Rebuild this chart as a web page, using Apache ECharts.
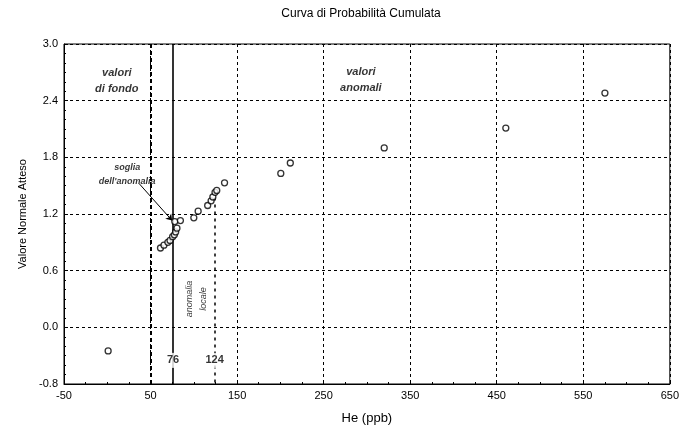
<!DOCTYPE html>
<html>
<head>
<meta charset="utf-8">
<script src="https://cdn.jsdelivr.net/npm/echarts@6/dist/echarts.min.js"></script>
<style>
  html, body { margin: 0; padding: 0; background: #fff; }
  #chart { width: 682px; height: 434px; }
</style>
</head>
<body>
<div id="chart"></div>
<script>
// dati
var heValues = [1, 61.5, 65.5, 70, 72.5, 75.5, 77.5, 79, 80.5, 78, 84.5, 100, 105, 116, 120, 122, 124.5, 126.5, 135.5, 200.5, 211.5, 320, 460.5, 575];
var normValues = [-0.25, 0.84, 0.87, 0.90, 0.92, 0.96, 0.98, 1.01, 1.05, 1.12, 1.13, 1.16, 1.23, 1.29, 1.34, 1.38, 1.43, 1.45, 1.53, 1.63, 1.74, 1.90, 2.11, 2.48];
var sogliaFondo = 76;
var sogliaLocale = 124;
var yBottomLabel = '-0.8';

var punti = [];
for (var i = 0; i < heValues.length; i++) {
    punti.push([heValues[i], normValues[i]]);
}

var testi = [
    { value: [11, 2.61], text: 'valori\ndi fondo', size: 11, weight: 'bold', rot: 0 },
    { value: [293, 2.62], text: 'valori\nanomali', size: 11, weight: 'bold', rot: 0 },
    { value: [23, 1.62], text: 'soglia\ndell\'anomalia', size: 9, weight: 'bold', rot: 0 },
    { value: [103, 0.3], text: 'anomalia\nlocale', size: 9, weight: 'normal', rot: 90 }
];

var myChart = echarts.init(document.getElementById('chart'));

var myoption = {
    animation: false,
    backgroundColor: '#fff',
    title: {
        text: 'Curva di Probabilità Cumulata',
        left: 356,
        top: 3,
        textAlign: 'center',
        textStyle: {
            fontFamily: 'Liberation Sans',
            fontWeight: 'normal',
            fontSize: 12,
            color: '#000'
        }
    },
    grid: {
        left: 64,
        right: 12,
        top: 44,
        bottom: 50,
        show: true,
        borderColor: '#000',
        borderWidth: 1
    },
    xAxis: {
        type: 'value',
        min: -50,
        max: 650,
        interval: 100,
        name: 'He (ppb)',
        nameLocation: 'middle',
        nameGap: 28,
        nameTextStyle: { fontFamily: 'Liberation Sans', fontSize: 13, color: '#000' },
        axisLine: { onZero: false, lineStyle: { color: '#000', width: 1 } },
        axisTick: { inside: true, length: 4, lineStyle: { color: '#000' } },
        minorTick: { show: true, splitNumber: 4, length: 2, lineStyle: { color: '#000' } },
        axisLabel: { fontFamily: 'Liberation Sans', fontSize: 11, color: '#000', margin: 6 },
        splitLine: { show: true, lineStyle: { color: '#000', type: [3, 3], width: 1 } }
    },
    yAxis: {
        type: 'value',
        min: -0.6,
        max: 3.0,
        interval: 0.6,
        name: 'Valore Normale Atteso',
        nameLocation: 'middle',
        nameGap: 36,
        nameTextStyle: { fontFamily: 'Liberation Sans', fontSize: 11, color: '#000' },
        axisLine: { show: true, onZero: false, lineStyle: { color: '#000', width: 1 } },
        axisTick: { show: true, inside: true, length: 4, lineStyle: { color: '#000' } },
        minorTick: { show: true, splitNumber: 6, length: 2, lineStyle: { color: '#000' } },
        axisLabel: {
            fontFamily: 'Liberation Sans',
            fontSize: 11,
            color: '#000',
            margin: 6,
            formatter: function (v) {
                if (Math.abs(v + 0.6) < 1e-6) return yBottomLabel;
                return v.toFixed(1);
            }
        },
        splitLine: { show: true, lineStyle: { color: '#000', type: [3, 3], width: 1 } }
    },
    series: [
        {
            type: 'scatter',
            data: punti,
            symbol: 'circle',
            symbolSize: 6,
            itemStyle: { color: '#fff', borderColor: '#000', borderWidth: 1.3 },
            z: 5,
            markLine: {
                silent: true,
                symbol: 'none',
                label: { show: false },
                z: 3,
                data: [
                    [{ coord: [sogliaFondo, 3.0], lineStyle: { color: '#000', width: 1.6, type: 'solid' } },
                     { coord: [sogliaFondo, -0.6] }],
                    [{ coord: [50, 3.0], lineStyle: { color: '#000', width: 2, type: [4, 3] } },
                     { coord: [50, -0.6] }],
                    [{ coord: [sogliaLocale, 1.45], lineStyle: { color: '#000', width: 1.5, type: [3, 4] } },
                     { coord: [sogliaLocale, -0.6] }],
                    [{ coord: [37, 1.52], symbol: 'none', lineStyle: { color: '#000', width: 1, type: 'solid' } },
                     { coord: [75, 1.13], symbol: 'arrow', symbolSize: 6 }]
                ]
            }
        },
        {
            type: 'scatter',
            symbolSize: 0,
            silent: true,
            z: 6,
            data: [
                { value: [sogliaFondo, -0.35], name: String(sogliaFondo) },
                { value: [sogliaLocale, -0.35], name: String(sogliaLocale) }
            ],
            label: {
                show: true,
                position: 'inside',
                formatter: '{b}',
                fontFamily: 'Liberation Sans',
                fontWeight: 'bold',
                fontSize: 11,
                color: '#000',
                backgroundColor: '#fff',
                padding: [2, 1]
            }
        },
        {
            type: 'scatter',
            symbolSize: 0,
            silent: true,
            z: 6,
            data: testi.map(function (t) {
                return {
                    value: t.value,
                    name: t.text,
                    label: { fontSize: t.size, fontWeight: t.weight, rotate: t.rot, lineHeight: t.size + 5 }
                };
            }),
            label: {
                show: true,
                position: 'inside',
                formatter: '{b}',
                fontFamily: 'Liberation Sans',
                fontStyle: 'italic',
                color: '#000',
                align: 'center'
            }
        }
    ]
};

myChart.setOption(myoption);

window.onresize = function () {
    myChart.resize();
};
</script>
</body>
</html>
